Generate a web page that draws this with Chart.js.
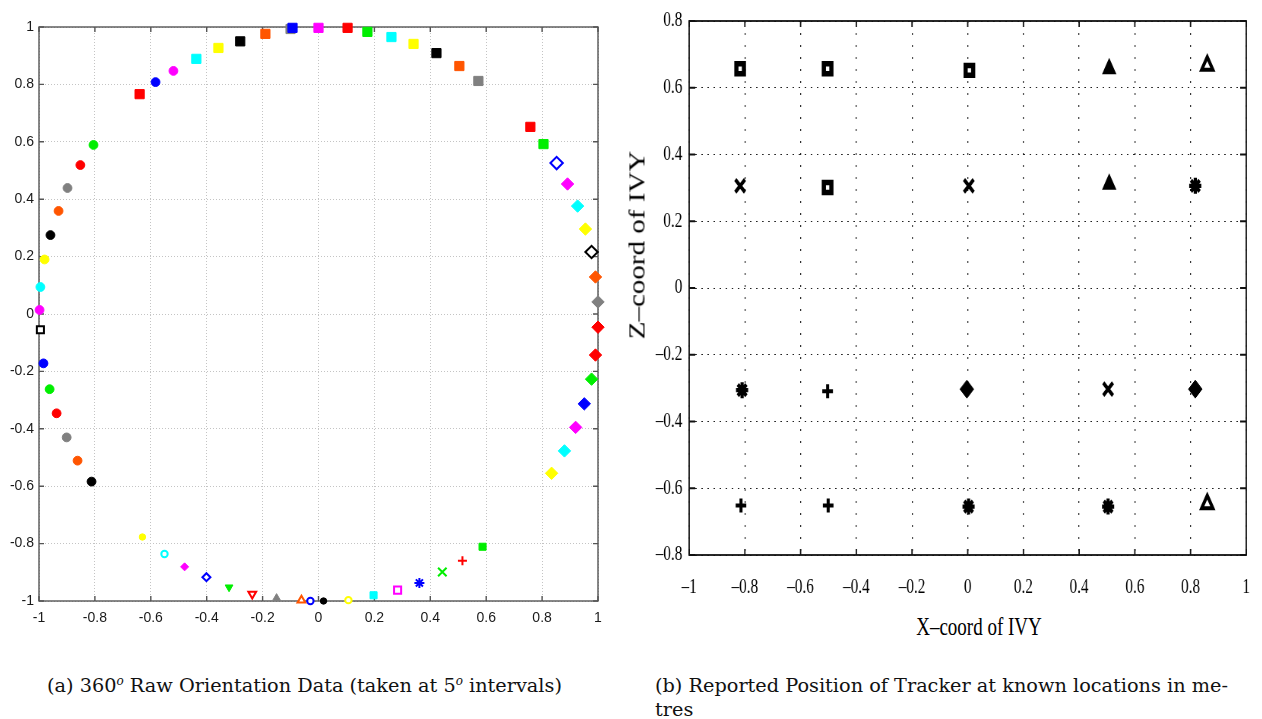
<!DOCTYPE html>
<html>
<head>
<meta charset="utf-8">
<script src="https://cdn.jsdelivr.net/npm/chart.js@4"></script>
<style>
  body { margin: 0; background: #fff; width: 1262px; height: 719px; overflow: hidden; position: relative; }
  #left { position: absolute; left: 0; top: 0; }
  #rightWrap { position: absolute; left: 620px; top: 0; transform: scaleX(0.76); transform-origin: 0 0; }
  .cap { position: absolute; font-family: "DejaVu Serif", serif; font-size: 19.3px; line-height: 24px; white-space: nowrap; color: #111; }
  .cap sup { font-size: 12px; font-style: italic; line-height: 0; vertical-align: 7px; }
  .axt { position: absolute; font-family: "Liberation Serif", serif; color: #000; white-space: nowrap; line-height: 1; }
</style>
</head>
<body>
<canvas id="left" width="615" height="640"></canvas>
<div id="rightWrap"><canvas id="right" width="850" height="600"></canvas></div>
<div class="axt" style="left:979px; top:626px; font-size:25px; transform:translate(-50%,-50%) scaleX(0.76)">X–coord of IVY</div>
<div class="axt" style="left:637px; top:245px; font-size:29px; transform:translate(-50%,-50%) rotate(-90deg) scaleY(0.76)">Z–coord of IVY</div>
<div class="cap" style="left:47px; top:674px">(a) 360<sup>o</sup> Raw Orientation Data (taken at 5<sup>o</sup> intervals)</div>
<div class="cap" style="left:655px; top:674px">(b) Reported Position of Tracker at known locations in me-<br>tres</div>

<script>
// ---------- (a) raw orientation samples ----------
const leftX = [
    0.0, -0.1, -0.093, -0.19, -0.28, -0.358, -0.437, -0.519, -0.583, -0.64,
    -0.805, -0.852, -0.898, -0.93, -0.959, -0.98, -0.995, -0.998, -0.995,
    -0.984, -0.962, -0.937, -0.901, -0.862, -0.812,
    -0.63, -0.551, -0.479, -0.401, -0.32, -0.237, -0.15, -0.061, -0.029,
    0.018, 0.107, 0.197, 0.283, 0.361, 0.443, 0.515, 0.587,
    0.834, 0.88, 0.92, 0.951, 0.977, 0.991, 1.0, 1.0, 0.991, 0.977, 0.955, 0.927, 0.891, 0.852,
    0.805, 0.758, 0.572, 0.504, 0.422, 0.34, 0.261, 0.175, 0.104
];
const leftY = [
    0.997, 0.993, 0.997, 0.976, 0.95, 0.927, 0.889, 0.847, 0.808, 0.766,
    0.589, 0.519, 0.439, 0.359, 0.275, 0.19, 0.094, 0.014, -0.055,
    -0.172, -0.262, -0.346, -0.43, -0.511, -0.584,
    -0.777, -0.836, -0.881, -0.917, -0.952, -0.976, -0.99, -0.997, -1.0,
    -1.0, -0.997, -0.98, -0.962, -0.937, -0.899, -0.86, -0.811,
    -0.555, -0.477, -0.395, -0.313, -0.227, -0.143, -0.046, 0.042, 0.129, 0.216, 0.296, 0.376, 0.453, 0.526,
    0.592, 0.652, 0.812, 0.864, 0.909, 0.941, 0.965, 0.983, 0.997
];
// colour codes: r g b m c y k o(range) e(grey)
const leftColors = [
    'm', 'e', 'b', 'o', 'k', 'y', 'c', 'm', 'b', 'r',
    'g', 'r', 'e', 'o', 'k', 'y', 'c', 'm', 'k',
    'b', 'g', 'r', 'e', 'o', 'k',
    'y', 'c', 'm', 'b', 'g', 'r', 'e', 'o', 'b',
    'k', 'y', 'c', 'm', 'b', 'g', 'r', 'g',
    'y', 'c', 'm', 'b', 'g', 'r', 'r', 'e', 'o', 'k', 'y', 'c', 'm', 'b',
    'g', 'r', 'e', 'o', 'k', 'y', 'c', 'g', 'r'
];
const leftMarks = [
    'sq', 'sq', 'sq', 'sq', 'sq', 'sq', 'sq', 'ci', 'ci', 'sq',
    'ci', 'ci', 'ci', 'ci', 'ci', 'ci', 'ci', 'ci', 'sqS',
    'ci', 'ci', 'ci', 'ci', 'ci', 'ci',
    'ciS', 'ciS', 'dmS', 'dmS', 'td', 'td', 'tu', 'tu', 'ciS',
    'ciS', 'ciS', 'sqS', 'sqS', 'st', 'x', 'pl', 'sqS',
    'dm', 'dm', 'dm', 'dm', 'dm', 'dm', 'dm', 'dm', 'dm', 'dm', 'dm', 'dm', 'dm', 'dm',
    'sq', 'sq', 'sq', 'sq', 'sq', 'sq', 'sq', 'sq', 'sq'
];
const leftOpen = [
    0, 0, 0, 0, 0, 0, 0, 0, 0, 0,
    0, 0, 0, 0, 0, 0, 0, 0, 1,
    0, 0, 0, 0, 0, 0,
    0, 1, 0, 1, 0, 1, 0, 1, 1,
    0, 1, 0, 1, 0, 0, 0, 0,
    0, 0, 0, 0, 0, 0, 0, 0, 0, 1, 0, 0, 0, 1,
    0, 0, 0, 0, 0, 0, 0, 0, 0
];
const leftTicks = [-1, -0.8, -0.6, -0.4, -0.2, 0, 0.2, 0.4, 0.6, 0.8, 1];
const leftTickLabels = ['-1', '-0.8', '-0.6', '-0.4', '-0.2', '0', '0.2', '0.4', '0.6', '0.8', '1'];

// ---------- (b) reported tracker positions ----------
const rightX = [
    -0.817, -0.503, 0.006, 0.508, 0.86,
    -0.817, -0.503, 0.004, 0.508, 0.817,
    -0.81, -0.503, -0.003, 0.504, 0.817,
    -0.814, -0.501, 0.003, 0.504, 0.86
];
const rightZ = [
    0.657, 0.657, 0.652, 0.657, 0.667,
    0.306, 0.301, 0.306, 0.311, 0.306,
    -0.306, -0.309, -0.303, -0.303, -0.303,
    -0.652, -0.652, -0.655, -0.655, -0.647
];
const rightMarks = [
    'sq', 'sq', 'sq', 'tf', 'to',
    'x', 'sq', 'x', 'tf', 'st',
    'st', 'pl', 'dm', 'x', 'dm',
    'pl', 'pl', 'st', 'st', 'to'
];
const rightXTicks = [-1, -0.8, -0.6, -0.4, -0.2, 0, 0.2, 0.4, 0.6, 0.8, 1];
const rightXTickLabels = ['–1', '–0.8', '–0.6', '–0.4', '–0.2', '0', '0.2', '0.4', '0.6', '0.8', '1'];
const rightZTicks = [-0.8, -0.6, -0.4, -0.2, 0, 0.2, 0.4, 0.6, 0.8];
const rightZTickLabels = ['–0.8', '–0.6', '–0.4', '–0.2', '0', '0.2', '0.4', '0.6', '0.8'];

// ---------- styles ----------
const PALETTE = {
    r: '#ff0000', g: '#00ee00', b: '#0000ff', m: '#ff00ff', c: '#00ffff',
    y: '#ffff00', k: '#000000', o: '#ff5500', e: '#808080'
};

const LEFT_MARK = {
    sq: { style: 'rect', r: 6.5 },
    sqS: { style: 'rect', r: 5 },
    ci: { style: 'circle', r: 4.4 },
    ciS: { style: 'circle', r: 3.2 },
    dm: { style: 'rectRot', r: 6.2 },
    dmS: { style: 'rectRot', r: 4 },
    tu: { style: 'triangle', r: 4.5, rot: 0 },
    td: { style: 'triangle', r: 4.5, rot: 180 },
    st: { style: 'star', r: 5 },
    x: { style: 'crossRot', r: 6 },
    pl: { style: 'cross', r: 4.5 }
};

const RIGHT_MARK = {
    sq: { style: 'rect', r: 7, fill: '#fff', bw: 5.5 },
    tf: { style: 'triangle', r: 9, fill: '#000', bw: 2 },
    to: { style: 'triangle', r: 8.5, fill: '#fff', bw: 4 },
    x: { style: 'crossRot', r: 9, bw: 4 },
    st: { style: 'star', r: 8, bw: 4.2 },
    pl: { style: 'cross', r: 7, bw: 4 },
    dm: { style: 'rectRot', r: 9, fill: '#000', bw: 1 }
};

// box frame with inward tick marks, drawn under the markers
const boxAxes = {
    id: 'boxAxes',
    beforeDatasetsDraw(chart, args, o) {
        const { ctx, chartArea: a, scales: { x, y } } = chart;
        ctx.save();
        ctx.strokeStyle = o.color;
        ctx.lineWidth = o.width;
        ctx.beginPath();
        x.ticks.forEach(t => {
            const px = x.getPixelForValue(t.value);
            ctx.moveTo(px, a.bottom); ctx.lineTo(px, a.bottom - o.len);
            ctx.moveTo(px, a.top); ctx.lineTo(px, a.top + o.len);
        });
        y.ticks.forEach(t => {
            const py = y.getPixelForValue(t.value);
            ctx.moveTo(a.left, py); ctx.lineTo(a.left + o.lenX, py);
            ctx.moveTo(a.right, py); ctx.lineTo(a.right - o.lenX, py);
        });
        ctx.stroke();
        ctx.strokeRect(a.left, a.top, a.right - a.left, a.bottom - a.top);
        ctx.restore();
    }
};

// ---------- left chart ----------
const leftStyle = leftMarks.map(k => LEFT_MARK[k]);
const leftCol = leftColors.map(c => PALETTE[c]);
const sansFont = { family: '"Liberation Sans", Arial, sans-serif', size: 14 };

new Chart(document.getElementById('left'), {
    type: 'scatter',
    data: {
        datasets: [{
            data: leftX.map((v, i) => ({ x: v, y: leftY[i] })),
            pointStyle: leftStyle.map(s => s.style),
            pointRadius: leftStyle.map(s => s.r),
            pointRotation: leftStyle.map(s => s.rot || 0),
            pointBorderColor: leftCol,
            pointBackgroundColor: leftCol.map((c, i) => leftOpen[i] ? '#ffffff' : c),
            pointBorderWidth: leftStyle.map((s, i) => (leftOpen[i] || s.style === 'star' || s.style === 'cross' || s.style === 'crossRot') ? 2 : 1),
            clip: false
        }]
    },
    options: {
        responsive: false,
        devicePixelRatio: 1,
        animation: false,
        events: [],
        layout: { padding: { left: 0, top: 27, right: 17, bottom: 0 } },
        plugins: {
            legend: { display: false },
            tooltip: { enabled: false },
            boxAxes: { color: '#555', width: 1.4, len: 5, lenX: 5 }
        },
        scales: {
            x: {
                type: 'linear', min: -1, max: 1,
                afterBuildTicks: s => { s.ticks = leftTicks.map(v => ({ value: v })); },
                afterFit: s => { s.height = 39; },
                grid: { color: '#c4c4c4', lineWidth: 1, drawTicks: false },
                border: { display: false, dash: [1, 2] },
                ticks: {
                    padding: 9, color: '#1a1a1a', font: sansFont, maxRotation: 0, autoSkip: false,
                    callback: (v, i) => leftTickLabels[i]
                }
            },
            y: {
                type: 'linear', min: -1, max: 1,
                afterBuildTicks: s => { s.ticks = leftTicks.map(v => ({ value: v })); },
                afterFit: s => { s.width = 39; },
                grid: { color: '#c4c4c4', lineWidth: 1, drawTicks: false },
                border: { display: false, dash: [1, 2] },
                ticks: {
                    padding: 5, color: '#1a1a1a', font: sansFont, autoSkip: false,
                    callback: (v, i) => leftTickLabels[i]
                }
            }
        }
    },
    plugins: [boxAxes]
});

// ---------- right chart (drawn wide, squeezed by CSS like the original figure) ----------
const rightStyle = rightMarks.map(k => RIGHT_MARK[k]);
const serifFont = { family: '"Liberation Serif", "Times New Roman", serif', size: 20 };

new Chart(document.getElementById('right'), {
    type: 'scatter',
    data: {
        datasets: [{
            data: rightX.map((v, i) => ({ x: v, y: rightZ[i] })),
            pointStyle: rightStyle.map(s => s.style),
            pointRadius: rightStyle.map(s => s.r),
            pointBorderColor: '#000',
            pointBackgroundColor: rightStyle.map(s => s.fill || '#000'),
            pointBorderWidth: rightStyle.map(s => s.bw),
            clip: false
        }]
    },
    options: {
        responsive: false,
        devicePixelRatio: 1,
        animation: false,
        events: [],
        layout: { padding: { left: 0, top: 15, right: 16, bottom: 0 } },
        plugins: {
            legend: { display: false },
            tooltip: { enabled: false },
            boxAxes: { color: '#111', width: 1.8, len: 6, lenX: 8 }
        },
        scales: {
            x: {
                type: 'linear', min: -1, max: 1,
                afterBuildTicks: s => { s.ticks = rightXTicks.map(v => ({ value: v })); },
                afterFit: s => { s.height = 45; },
                grid: { color: '#222', lineWidth: 1.3, drawTicks: false },
                border: { display: false, dash: [2, 10] },
                ticks: {
                    padding: 21, color: '#000', font: serifFont, maxRotation: 0, autoSkip: false,
                    callback: (v, i) => rightXTickLabels[i]
                }
            },
            y: {
                type: 'linear', min: -0.8, max: 0.8,
                afterBuildTicks: s => { s.ticks = rightZTicks.map(v => ({ value: v })); },
                afterFit: s => { s.width = 91; },
                grid: { color: '#222', lineWidth: 1, drawTicks: false },
                border: { display: false, dash: [2, 6] },
                ticks: {
                    padding: 9, color: '#000', font: serifFont, autoSkip: false,
                    callback: (v, i) => rightZTickLabels[i]
                }
            }
        }
    },
    plugins: [boxAxes]
});
</script>
</body>
</html>
